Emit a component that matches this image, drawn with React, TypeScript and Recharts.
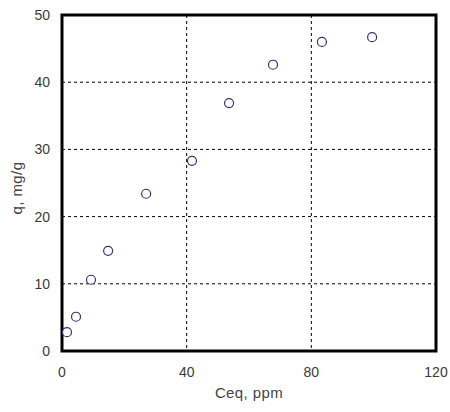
import React from "react";
import {
  ScatterChart,
  Scatter,
  XAxis,
  YAxis,
  CartesianGrid,
  ReferenceArea,
  Label,
} from "recharts";

const ceq = [1.6, 4.5, 9.3, 14.8, 27, 41.7, 53.6, 67.7, 83.4, 99.5];
const q = [2.8, 5.1, 10.6, 14.9, 23.4, 28.3, 36.9, 42.6, 46, 46.7];
const xTicks = [0, 40, 80, 120];
const yTicks = [0, 10, 20, 30, 40, 50];

const points = ceq.map((x, i) => ({ x, y: q[i] }));

const font = "Liberation Sans, Arial";
const tickStyle = { fontSize: 14, fill: "#3a3a3a", fontFamily: font };

const App = () => {
  return (
    <div style={{ position: "absolute", left: 0, top: 0, background: "#fff" }}>
      <ScatterChart
        width={450}
        height={412}
        margin={{ top: 15, right: 14, left: 0, bottom: 0 }}
      >
        <CartesianGrid stroke="#000" strokeDasharray="3 3" />
        <XAxis
          type="number"
          dataKey="x"
          domain={[0, 120]}
          ticks={xTicks}
          height={61}
          axisLine={false}
          tickLine={false}
          tickMargin={10}
          tick={tickStyle}
        >
          <Label
            value="Ceq, ppm"
            position="insideBottom"
            offset={14}
            style={{ fontSize: 15, fill: "#444", fontFamily: font, letterSpacing: 0.4 }}
          />
        </XAxis>
        <YAxis
          type="number"
          dataKey="y"
          domain={[0, 50]}
          ticks={yTicks}
          width={62}
          axisLine={false}
          tickLine={false}
          tickMargin={6}
          tick={tickStyle}
        >
          <Label
            value="q, mg/g"
            angle={-90}
            position="insideLeft"
            offset={17}
            dy={5}
            style={{
              fontSize: 15,
              fill: "#444",
              fontFamily: font,
              textAnchor: "middle",
              letterSpacing: 0.4,
            }}
          />
        </YAxis>
        <ReferenceArea
          x1={0}
          x2={120}
          y1={0}
          y2={50}
          fill="none"
          stroke="#000"
          strokeWidth={3}
          ifOverflow="visible"
        />
        <Scatter
          data={points}
          isAnimationActive={false}
          shape={(props: any) => (
            <circle
              cx={props.cx}
              cy={props.cy}
              r={4.5}
              fill="#fff"
              stroke="#33337a"
              strokeWidth={1.2}
            />
          )}
        />
      </ScatterChart>
    </div>
  );
};

export default App;
